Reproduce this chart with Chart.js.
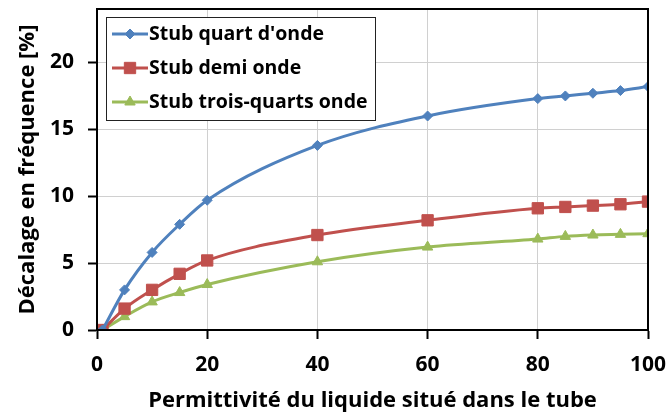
<!DOCTYPE html>
<html>
<head>
<meta charset="utf-8">
<script src="https://cdn.jsdelivr.net/npm/chart.js@4"></script>
<style>
  html, body { margin: 0; padding: 0; background: #fff; }
  #wrap { width: 667px; height: 418px; }
</style>
</head>
<body>
<div id="wrap"><canvas id="chart" width="667" height="418"></canvas></div>
<script>
const permittivity = [1, 5, 10, 15, 20, 40, 60, 80, 85, 90, 95, 100];
const quartOnde = [0, 3.0, 5.8, 7.9, 9.7, 13.8, 16.0, 17.3, 17.5, 17.7, 17.9, 18.2];
const demiOnde = [0, 1.6, 3.0, 4.2, 5.2, 7.1, 8.2, 9.1, 9.2, 9.3, 9.4, 9.6];
const troisQuarts = [0, 1.0, 2.1, 2.8, 3.4, 5.1, 6.2, 6.8, 7.0, 7.1, 7.15, 7.2];
const xTicks = [0, 20, 40, 60, 80, 100];
const yTicks = [0, 5, 10, 15, 20];

const FONT = '"Open Sans", sans-serif';
const BLUE = '#4f81bd', RED = '#c0504d', GREEN = '#9bbb59';

const pts = ys => ys.map((y, i) => ({x: permittivity[i], y}));

const series = [
  {label: 'Stub quart d\'onde', data: pts(quartOnde), color: BLUE, style: 'rectRot', r: 5},
  {label: 'Stub demi onde', data: pts(demiOnde), color: RED, style: 'rect', r: 8},
  {label: 'Stub trois-quarts onde', data: pts(troisQuarts), color: GREEN, style: 'triangle', r: 6}
];

// frame around the plot + legend box drawn inside the plot
const frameAndLegend = {
  id: 'frameAndLegend',
  afterDraw(chart) {
    const {ctx, chartArea: a} = chart;
    ctx.save();
    ctx.strokeStyle = '#000';
    ctx.lineWidth = 2;
    ctx.strokeRect(a.left, a.top, a.right - a.left, a.bottom - a.top);

    const bx = 106, by = 17, bw = 269, bh = 103;
    ctx.fillStyle = '#fff';
    ctx.fillRect(bx, by, bw, bh);
    ctx.lineWidth = 1;
    ctx.strokeStyle = '#222';
    ctx.strokeRect(bx + 0.5, by + 0.5, bw, bh);

    ctx.font = 'bold 19.5px ' + FONT;
    ctx.textBaseline = 'middle';
    series.forEach((s, i) => {
      const y = 34 + i * 34;
      ctx.strokeStyle = s.color;
      ctx.fillStyle = s.color;
      ctx.lineWidth = 3;
      ctx.beginPath();
      ctx.moveTo(112, y);
      ctx.lineTo(148, y);
      ctx.stroke();
      ctx.lineWidth = 1;
      Chart.helpers.drawPoint(ctx, {pointStyle: s.style, radius: s.r, borderWidth: 1}, 130, y);
      ctx.fillStyle = '#000';
      ctx.fillText(s.label, 149, y);
    });
    ctx.restore();
  }
};

const tickFont = {family: FONT, size: 21, weight: 'bold'};
const titleFont = {family: FONT, size: 22, weight: 'bold'};

new Chart(document.getElementById('chart'), {
  type: 'scatter',
  data: {
    datasets: series.map(s => ({
      label: s.label,
      data: s.data,
      showLine: true,
      borderColor: s.color,
      backgroundColor: s.color,
      borderWidth: 3,
      cubicInterpolationMode: 'monotone',
      pointStyle: s.style,
      pointRadius: s.r,
      pointBorderWidth: 1
    }))
  },
  options: {
    responsive: false,
    animation: false,
    layout: {padding: {top: 5, right: 19, left: 0, bottom: 0}},
    plugins: {legend: {display: false}, tooltip: {enabled: false}},
    scales: {
      x: {
        type: 'linear', min: 0, max: 100,
        afterBuildTicks: s => { s.ticks = xTicks.map(v => ({value: v})); },
        afterFit: s => { s.height = 88; s.paddingLeft = 0; s.paddingRight = 0; },
        grid: {color: '#d0d0d0', lineWidth: 1, tickLength: 9, tickColor: '#000', tickWidth: 2},
        border: {color: '#000', width: 2},
        ticks: {color: '#000', font: tickFont, padding: 13},
        title: {display: true, text: 'Permittivité du liquide situé dans le tube', color: '#000',
          font: titleFont, padding: {top: 4}}
      },
      y: {
        type: 'linear', min: 0, max: 24,
        afterBuildTicks: s => { s.ticks = yTicks.map(v => ({value: v})); },
        afterFit: s => { s.width = 97; s.paddingTop = 0; s.paddingBottom = 0; },
        grid: {color: '#d0d0d0', lineWidth: 1, tickLength: 9, tickColor: '#000', tickWidth: 2},
        border: {color: '#000', width: 2},
        ticks: {color: '#000', font: tickFont, padding: 14},
        title: {display: true, text: 'Décalage en fréquence [%]', color: '#000',
          font: titleFont, padding: {top: 15}}
      }
    }
  },
  plugins: [frameAndLegend]
});
</script>
</body>
</html>
